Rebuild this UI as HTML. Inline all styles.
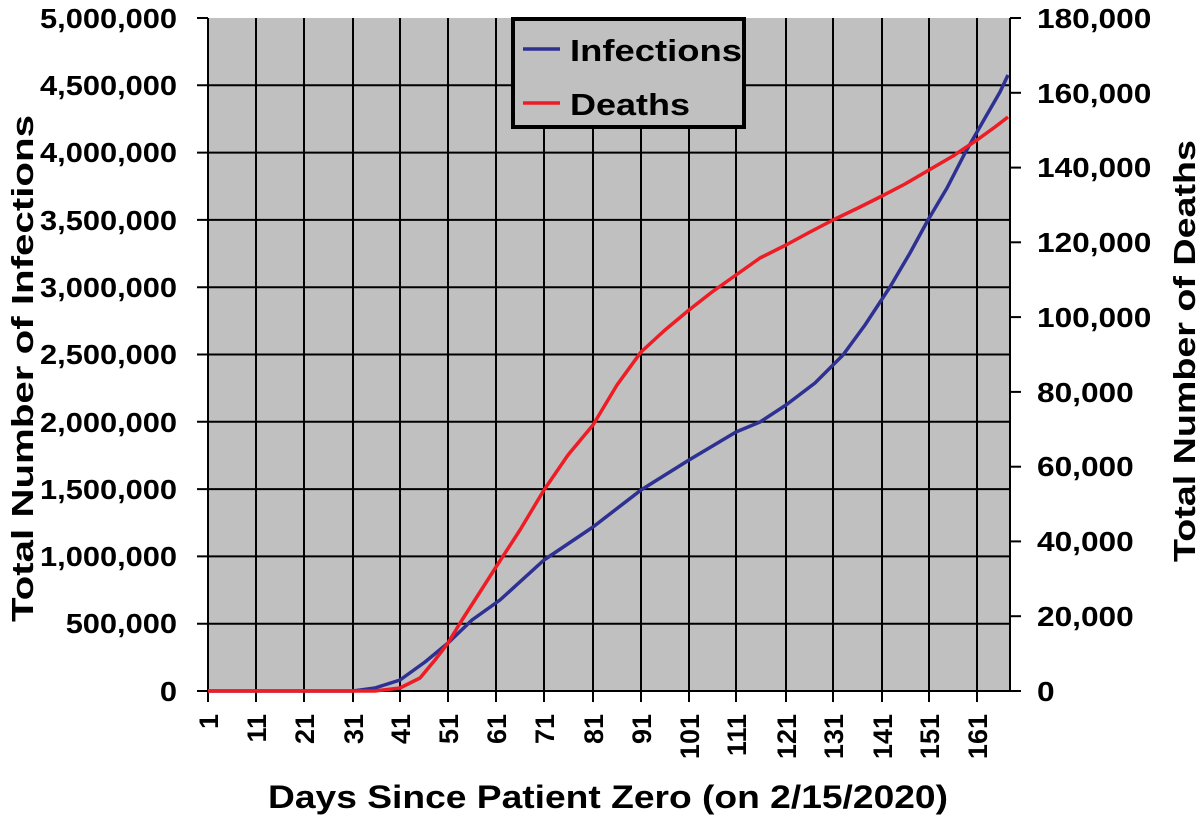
<!DOCTYPE html>
<html><head><meta charset="utf-8"><style>
html,body{margin:0;padding:0;background:#fff;}
svg{display:block;}
text{font-family:"Liberation Sans",Arial,sans-serif;font-weight:bold;fill:#000;}
</style></head><body>
<svg width="1200" height="816" viewBox="0 0 1200 816">
<rect x="208" y="18" width="802" height="673" fill="#c0c0c0"/>
<g stroke="#000" stroke-width="2">
<line x1="256" y1="18" x2="256" y2="691"/><line x1="304" y1="18" x2="304" y2="691"/>
<line x1="353" y1="18" x2="353" y2="691"/><line x1="400" y1="18" x2="400" y2="691"/>
<line x1="448" y1="18" x2="448" y2="691"/><line x1="496" y1="18" x2="496" y2="691"/>
<line x1="544" y1="18" x2="544" y2="691"/><line x1="593" y1="18" x2="593" y2="691"/>
<line x1="641" y1="18" x2="641" y2="691"/><line x1="689" y1="18" x2="689" y2="691"/>
<line x1="736" y1="18" x2="736" y2="691"/><line x1="786" y1="18" x2="786" y2="691"/>
<line x1="833" y1="18" x2="833" y2="691"/><line x1="882" y1="18" x2="882" y2="691"/>
<line x1="929" y1="18" x2="929" y2="691"/><line x1="977" y1="18" x2="977" y2="691"/>
<line x1="197" y1="85.3" x2="1010" y2="85.3"/><line x1="197" y1="152.6" x2="1010" y2="152.6"/>
<line x1="197" y1="219.9" x2="1010" y2="219.9"/><line x1="197" y1="287.2" x2="1010" y2="287.2"/>
<line x1="197" y1="354.5" x2="1010" y2="354.5"/><line x1="197" y1="421.8" x2="1010" y2="421.8"/>
<line x1="197" y1="489.1" x2="1010" y2="489.1"/><line x1="197" y1="556.4" x2="1010" y2="556.4"/>
<line x1="197" y1="623.7" x2="1010" y2="623.7"/>
<line x1="197" y1="18" x2="208" y2="18"/><line x1="197" y1="691" x2="1021" y2="691"/>
<line x1="208" y1="18" x2="208" y2="702"/><line x1="1010" y1="18" x2="1010" y2="691"/>
<line x1="1010" y1="18" x2="1021" y2="18"/><line x1="1010" y1="92.8" x2="1021" y2="92.8"/>
<line x1="1010" y1="167.6" x2="1021" y2="167.6"/><line x1="1010" y1="242.3" x2="1021" y2="242.3"/>
<line x1="1010" y1="317.1" x2="1021" y2="317.1"/><line x1="1010" y1="391.9" x2="1021" y2="391.9"/>
<line x1="1010" y1="466.7" x2="1021" y2="466.7"/><line x1="1010" y1="541.4" x2="1021" y2="541.4"/>
<line x1="1010" y1="616.2" x2="1021" y2="616.2"/>
<line x1="256" y1="691" x2="256" y2="702"/><line x1="304" y1="691" x2="304" y2="702"/>
<line x1="353" y1="691" x2="353" y2="702"/><line x1="400" y1="691" x2="400" y2="702"/>
<line x1="448" y1="691" x2="448" y2="702"/><line x1="496" y1="691" x2="496" y2="702"/>
<line x1="544" y1="691" x2="544" y2="702"/><line x1="593" y1="691" x2="593" y2="702"/>
<line x1="641" y1="691" x2="641" y2="702"/><line x1="689" y1="691" x2="689" y2="702"/>
<line x1="736" y1="691" x2="736" y2="702"/><line x1="786" y1="691" x2="786" y2="702"/>
<line x1="833" y1="691" x2="833" y2="702"/><line x1="882" y1="691" x2="882" y2="702"/>
<line x1="929" y1="691" x2="929" y2="702"/><line x1="977" y1="691" x2="977" y2="702"/>
</g>
<polyline fill="none" stroke="#2e3192" stroke-width="3.5" stroke-linejoin="round" points="208,691 353,691 375,688 400,680 425,662 448,643 472,620 500,600 544,560 593,527 641,490 689,460 736,432 760,422 786,405 815,383 843,355 865,325 890,287 910,253 928,220 947,188 965,153 985,118 1000,92 1008,75"/>
<polyline fill="none" stroke="#ee1c24" stroke-width="3.5" stroke-linejoin="round" points="208,691 375,691 400,688 420,678 435,660 448,643 462,620 480,592 496,567 520,530 544,490 568,455 593,425 617,385 641,352 665,330 689,310 712,292 736,275 760,258 786,245 810,232 833,220 858,208 882,196 905,184 929,170 953,156 977,140 995,127 1008,117"/>
<rect x="513" y="19" width="231" height="108" fill="#c0c0c0" stroke="#000" stroke-width="4"/>
<line x1="523" y1="49" x2="560" y2="49" stroke="#2e3192" stroke-width="3.5"/>
<line x1="523" y1="103" x2="560" y2="103" stroke="#ee1c24" stroke-width="3.5"/>
<text x="570" y="61" font-size="31" textLength="172" lengthAdjust="spacingAndGlyphs">Infections</text>
<text x="570" y="115" font-size="31" textLength="120" lengthAdjust="spacingAndGlyphs">Deaths</text>
<g font-size="28" text-anchor="end" transform="translate(177,0) scale(1.1,1) translate(-177,0)">
<text x="177" y="28">5,000,000</text><text x="177" y="95">4,500,000</text>
<text x="177" y="162">4,000,000</text><text x="177" y="230">3,500,000</text>
<text x="177" y="297">3,000,000</text><text x="177" y="364">2,500,000</text>
<text x="177" y="432">2,000,000</text><text x="177" y="499">1,500,000</text>
<text x="177" y="566">1,000,000</text><text x="177" y="633">500,000</text>
<text x="177" y="701">0</text>
</g>
<g font-size="28" transform="translate(1037,0) scale(1.13,1) translate(-1037,0)">
<text x="1037" y="28">180,000</text><text x="1037" y="103">160,000</text>
<text x="1037" y="177">140,000</text><text x="1037" y="252">120,000</text>
<text x="1037" y="327">100,000</text><text x="1037" y="402">80,000</text>
<text x="1037" y="476">60,000</text><text x="1037" y="551">40,000</text>
<text x="1037" y="626">20,000</text><text x="1037" y="701">0</text>
</g>
<g font-size="27" text-anchor="end">
<text transform="translate(218,714) rotate(-90)">1</text>
<text transform="translate(266,714) rotate(-90)">11</text>
<text transform="translate(314,714) rotate(-90)">21</text>
<text transform="translate(363,714) rotate(-90)">31</text>
<text transform="translate(410,714) rotate(-90)">41</text>
<text transform="translate(458,714) rotate(-90)">51</text>
<text transform="translate(506,714) rotate(-90)">61</text>
<text transform="translate(554,714) rotate(-90)">71</text>
<text transform="translate(603,714) rotate(-90)">81</text>
<text transform="translate(651,714) rotate(-90)">91</text>
<text transform="translate(699,714) rotate(-90)">101</text>
<text transform="translate(746,714) rotate(-90)">111</text>
<text transform="translate(796,714) rotate(-90)">121</text>
<text transform="translate(843,714) rotate(-90)">131</text>
<text transform="translate(892,714) rotate(-90)">141</text>
<text transform="translate(939,714) rotate(-90)">151</text>
<text transform="translate(987,714) rotate(-90)">161</text>
</g>
<text x="268" y="808" font-size="32" textLength="680" lengthAdjust="spacingAndGlyphs">Days Since Patient Zero (on 2/15/2020)</text>
<text transform="translate(33,622) rotate(-90)" font-size="31" textLength="507" lengthAdjust="spacingAndGlyphs">Total Number of Infections</text>
<text transform="translate(1195,562) rotate(-90)" font-size="31" textLength="422" lengthAdjust="spacingAndGlyphs">Total Number of Deaths</text>
</svg>
</body></html>
